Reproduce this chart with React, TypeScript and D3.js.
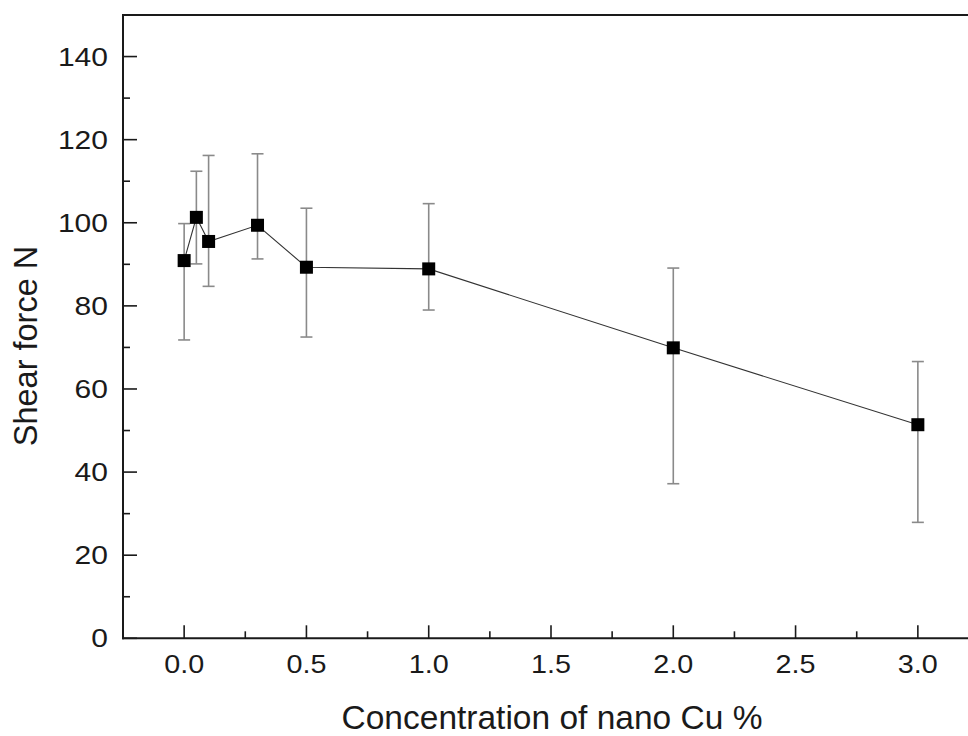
import React from "react";
import * as d3 from "d3";

const concentration = [0, 0.05, 0.1, 0.3, 0.5, 1.0, 2.0, 3.0];
const shearForce = [90.9, 101.3, 95.5, 99.4, 89.3, 88.9, 69.9, 51.4];
const errLow = [71.8, 90.1, 84.7, 91.3, 72.5, 79.0, 37.2, 27.9];
const errHigh = [99.8, 112.4, 116.2, 116.6, 103.5, 104.6, 89.1, 66.6];
const xTicks = [0, 0.5, 1.0, 1.5, 2.0, 2.5, 3.0];
const xMinorTicks = [-0.25, 0.25, 0.75, 1.25, 1.75, 2.25, 2.75, 3.25];
const yTicks = [0, 20, 40, 60, 80, 100, 120, 140];
const yMinorTicks = [10, 30, 50, 70, 90, 110, 130];

const W = 968;
const H = 736;
const left = 123;
const right = 979;
const top = 15;
const bottom = 638.3;

export default function App() {
  const x = d3.scaleLinear().domain([-0.25, 3.25]).range([left, right]);
  const y = d3.scaleLinear().domain([0, 150]).range([bottom, top]);
  const pts = concentration.map((c, i) => ({ c, v: shearForce[i], lo: errLow[i], hi: errHigh[i] }));
  const line = d3.line<any>().x((d) => x(d.c)).y((d) => y(d.v));
  const font = "'Liberation Sans', Arial, sans-serif";
  const ms = 13;
  const cap = 6;
  return (
    <svg width={W} height={H} style={{ position: "absolute", left: 0, top: 0, background: "#fff" }} fontFamily={font}>
      <rect x={0} y={0} width={W} height={H} fill="#fff" />
      <path d={line(pts) || ""} fill="none" stroke="#333" strokeWidth={1.1} />
      {pts.map((d, i) => (
        <g key={"e" + i} stroke="#8a8a8a" strokeWidth={1.6}>
          <line x1={x(d.c)} x2={x(d.c)} y1={y(d.lo)} y2={y(d.hi)} />
          <line x1={x(d.c) - cap} x2={x(d.c) + cap} y1={y(d.lo)} y2={y(d.lo)} />
          <line x1={x(d.c) - cap} x2={x(d.c) + cap} y1={y(d.hi)} y2={y(d.hi)} />
        </g>
      ))}
      {pts.map((d, i) => (
        <rect key={"m" + i} x={x(d.c) - ms / 2} y={y(d.v) - ms / 2} width={ms} height={ms} fill="#000" />
      ))}
      <g stroke="#1a1a1a" strokeWidth={2} fill="none">
        <line x1={left} x2={right} y1={top} y2={top} />
        <line x1={left} x2={left} y1={top - 1} y2={bottom + 1} />
        <line x1={left - 1} x2={right} y1={bottom} y2={bottom} />
        <line x1={right} x2={right} y1={top} y2={bottom} />
      </g>
      <g stroke="#1a1a1a" strokeWidth={1.6}>
        {xTicks.map((t) => (
          <line key={"xt" + t} x1={x(t)} x2={x(t)} y1={bottom} y2={bottom - 13} />
        ))}
        {xMinorTicks.map((t) => (
          <line key={"xm" + t} x1={x(t)} x2={x(t)} y1={bottom} y2={bottom - 7} />
        ))}
        {yTicks.map((t) => (
          <line key={"yt" + t} x1={left} x2={left + 14} y1={y(t)} y2={y(t)} />
        ))}
        {yMinorTicks.map((t) => (
          <line key={"ym" + t} x1={left} x2={left + 7} y1={y(t)} y2={y(t)} />
        ))}
      </g>
      <g fontSize={25} fill="#1a1a1a">
        {xTicks.map((t) => (
          <text key={"xl" + t} x={x(t)} y={673} textAnchor="middle" transform={`translate(${x(t)},0) scale(1.15,1) translate(${-x(t)},0)`}>
            {d3.format(".1f")(t)}
          </text>
        ))}
        {yTicks.map((t) => (
          <text key={"yl" + t} x={108} y={y(t) + 9} textAnchor="end" transform={`translate(108,0) scale(1.2,1) translate(-108,0)`}>
            {t}
          </text>
        ))}
      </g>
      <text x={552} y={729} textAnchor="middle" fontSize={33.5} fill="#1a1a1a">
        Concentration of nano Cu %
      </text>
      <text transform={`translate(37,346) rotate(-90)`} textAnchor="middle" fontSize={32.5} fill="#1a1a1a">
        Shear force N
      </text>
    </svg>
  );
}
